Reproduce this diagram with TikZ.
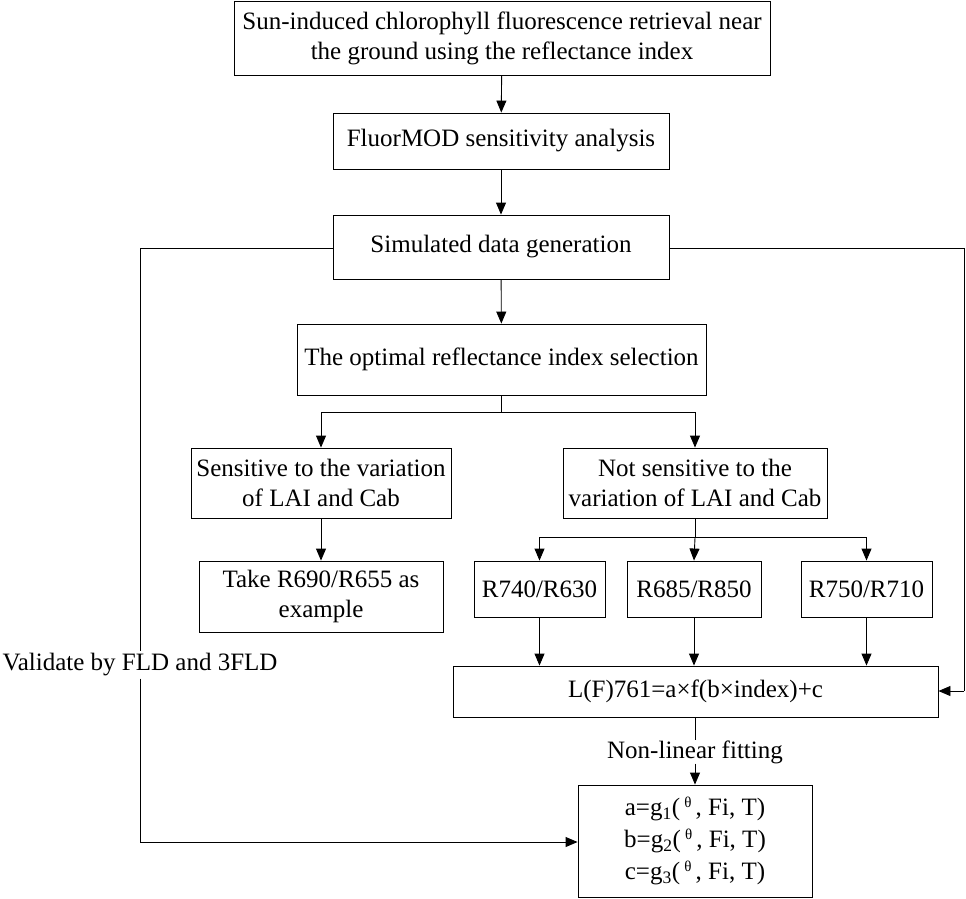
\documentclass[tikz,border=0pt]{standalone}
\usepackage{fontspec}
\setmainfont{Liberation Serif}
\usetikzlibrary{arrows.meta}
\begin{document}
\begin{tikzpicture}[x=1pt,y=-1pt,
  box/.style={draw, line width=0.9pt, align=center, inner sep=0pt, font=\fontsize{25}{30}\selectfont},
  lbl/.style={align=center, inner sep=0pt, font=\fontsize{25}{30}\selectfont},
  conn/.style={line width=0.9pt},
  arr/.style={line width=0.9pt, -{Triangle[length=12pt,width=10pt]}}]
\useasboundingbox (0,0) rectangle (966,899);
\newcommand{\thet}{\raisebox{0.3em}{\fontsize{15}{15}\selectfont θ}}
\node[box, minimum width=536, minimum height=74] (top) at (502,38) {Sun-induced chlorophyll fluorescence retrieval near\\the ground using the reflectance index};
\node[box, minimum width=336, minimum height=56] (fluor) at (501,141) {FluorMOD sensitivity analysis};
\node[box, minimum width=336, minimum height=64] (sim) at (501,247) {Simulated data generation};
\node[box, minimum width=409, minimum height=71] (opt) at (501.5,359.5) {The optimal reflectance index selection};
\node[box, minimum width=260, minimum height=70] (sens) at (321,483) {Sensitive to the variation\\of LAI and Cab};
\node[box, minimum width=264, minimum height=70] (nsens) at (695,483) {Not sensitive to the\\variation of LAI and Cab};
\node[box, minimum width=244, minimum height=71] (take) at (321,596.5) {Take R690/R655 as\\example};
\node[box, minimum width=131, minimum height=56] (r1) at (539.5,589) {R740/R630};
\node[box, minimum width=134, minimum height=56] (r2) at (694,589) {R685/R850};
\node[box, minimum width=131, minimum height=56] (r3) at (866.5,589) {R750/R710};
\node[box, minimum width=485, minimum height=51] (lf) at (695.5,691.5) {L(F)761=a×f(b×index)+c};
\node[box, minimum width=234, minimum height=112, font=\fontsize{25}{32}\selectfont] (abc) at (695,841) {a=g\textsubscript{1}(\,\thet\,, Fi, T)\\b=g\textsubscript{2}(\,\thet\,, Fi, T)\\c=g\textsubscript{3}(\,\thet\,, Fi, T)};
\node[lbl] (nlf) at (695,752) {Non-linear fitting};
\node[lbl, fill=white, inner sep=2pt] (val) at (140,665) {Validate by FLD and 3FLD};
\coordinate (sl) at (140,248);
\coordinate (sr) at (964,248);
\coordinate (rr) at (964,691);
\coordinate (vb) at (140,842);
% main flow
\draw[arr] (top) -- (fluor);
\draw[arr] (fluor) -- (sim);
\draw[arr] (sim) -- (opt);
\draw[conn] (opt.south) -- ++(0,17) coordinate (b1);
\draw[arr] (b1) -| (sens.north);
\draw[arr] (b1) -| (nsens.north);
\draw[arr] (sens) -- (take);
\draw[conn] (nsens.south) -- ++(0,19) coordinate (b2);
\draw[arr] (b2) -| (r1.north);
\draw[arr] (b2) -- (r2.north);
\draw[arr] (b2) -| (r3.north);
\draw[arr] (r1.south) -- (r1.south |- lf.north);
\draw[arr] (r2.south) -- (r2.south |- lf.north);
\draw[arr] (r3.south) -- (r3.south |- lf.north);
\draw[conn] (lf.south -| nlf) -- (nlf.north);
\draw[arr] (nlf.south) -- (nlf.south |- abc.north);
% side loops
\draw[conn] (sim.east |- sr) -- (sr) -- (rr);
\draw[arr] (rr) -- (lf.east |- rr);
\draw[conn] (sim.west |- sl) -- (sl) -- (val.north -| sl);
\draw[arr] (val.south -| sl) -- (vb) -- (abc.west |- vb);
\end{tikzpicture}
\end{document}
